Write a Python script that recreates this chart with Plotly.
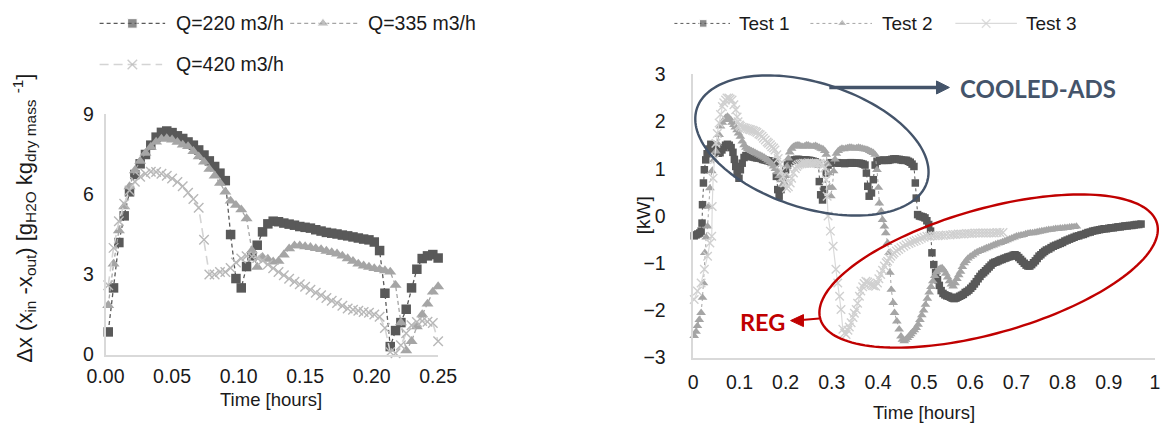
import numpy as np
import plotly.graph_objects as go

# ---- mapping from target picture pixels to the page ----
# The photographed page comes out slightly reduced, so targets are mapped back to page pixels.
S_X, B_X = 0.975, 8.0
S_Y, B_Y = 0.949, 1.0
OFF = 8            # default body margin of the page
FW, FH = 1185, 436  # figure size in page pixels

FONT = "Liberation Sans, Arial, sans-serif"
BOLD_FONT = "Lato, Open Sans, Liberation Sans, sans-serif"
TXT = "#1a1a1a"


def page_x(T):
    return (T - B_X) / S_X


def page_y(T):
    return (T - B_Y) / S_Y


def fx(T):
    return (page_x(T) - OFF) / FW


def fy(T):
    return 1 - (page_y(T) - OFF) / FH


# ---------------- data: left chart (moisture difference) ----------------
time_left = [0.002, 0.006, 0.010, 0.014, 0.018, 0.022, 0.026, 0.030, 0.034, 0.038,
             0.042, 0.046, 0.050, 0.054, 0.058, 0.062, 0.066, 0.070, 0.074, 0.078,
             0.082, 0.086, 0.090, 0.094, 0.098, 0.102, 0.106, 0.110, 0.114, 0.118,
             0.122, 0.126, 0.130, 0.134, 0.138, 0.142, 0.146, 0.150, 0.154, 0.158,
             0.162, 0.166, 0.170, 0.174, 0.178, 0.182, 0.186, 0.190, 0.194, 0.198,
             0.202, 0.206, 0.210, 0.214, 0.218, 0.222, 0.226, 0.230, 0.234, 0.238,
             0.242, 0.246, 0.250]
dx_q220 = [0.85, 2.5, 4.2, 5.2, 6.1, 6.75, 7.15, 7.5, 7.85, 8.15,
           8.33, 8.38, 8.32, 8.2, 8.1, 7.97, 7.85, 7.67, 7.48, 7.26,
           7.05, 6.8, 6.52, 4.5, 2.85, 2.5, 3.3, 3.7, 4.1, 4.6,
           4.9, 5.0, 4.98, 4.93, 4.89, 4.85, 4.8, 4.77, 4.74, 4.68,
           4.63, 4.58, 4.55, 4.52, 4.48, 4.45, 4.41, 4.37, 4.33, 4.3,
           4.22, 3.9, 2.3, 0.3, 0.9, 1.2, 1.7, 2.5, 3.2, 3.6,
           3.7, 3.75, 3.62]
dx_q335 = [1.85, 3.4, 4.65, 5.55, 6.3, 6.9, 7.25, 7.55, 7.78, 7.97,
           8.08, 8.1, 8.05, 7.96, 7.86, 7.8, 7.62, 7.42, 7.22, 6.95,
           6.7, 6.43, 6.1, 5.76, 5.6, 5.43, 5.1, 3.9, 3.28, 3.65,
           3.58, 3.48, 3.5, 3.74, 3.97, 4.08, 4.08, 4.05, 4.02, 3.98,
           3.94, 3.88, 3.83, 3.78, 3.7, 3.6, 3.5, 3.4, 3.33, 3.28,
           3.23, 3.19, 3.15, 3.1, 2.6, 1.2, 0.15, 0.5, 1.05, 1.5,
           1.9, 2.35, 2.55]
dx_q420 = [2.6, 4.0, 5.0, 5.65, 6.15, 6.48, 6.67, 6.78, 6.85, 6.84,
           6.78, 6.7, 6.6, 6.47, 6.31, 6.07, 5.83, 5.5, 4.3, 3.0,
           3.0, 3.1, 3.1, 3.25, 3.45, 3.6, 3.69, 3.68, 3.62, 3.53,
           3.38, 3.24, 3.1, 2.97, 2.84, 2.73, 2.64, 2.54, 2.43, 2.32,
           2.22, 2.12, 2.02, 1.93, 1.83, 1.73, 1.68, 1.64, 1.6, 1.57,
           1.5, 1.42, 1.0, 0.1, 0.05, 0.35, 0.8, 1.1, 1.22, 1.26,
           1.23, 1.18, 0.5]
left_names = ["Q=220 m3/h", "Q=335 m3/h", "Q=420 m3/h"]
left_xticks = [0, 0.05, 0.10, 0.15, 0.20, 0.25]
left_xticklabels = ["0.00", "0.05", "0.10", "0.15", "0.20", "0.25"]
left_yticks = [0, 3, 6, 9]

# ---------------- data: right chart (power, kW) as (hours, kW) ----------------
test1 = [
    (0.002, -0.42), (0.006, -0.4), (0.010, -0.38), (0.014, -0.36), (0.017, -0.32),
    (0.019, -0.15), (0.020, 0.24), (0.022, 0.7), (0.024, 0.98), (0.027, 1.19), (0.030, 1.32),
    (0.034, 1.42), (0.038, 1.52), (0.042, 1.5), (0.046, 1.45), (0.050, 1.38), (0.054, 1.33),
    (0.058, 1.34), (0.062, 1.4), (0.066, 1.45), (0.070, 1.5), (0.074, 1.52), (0.078, 1.5),
    (0.082, 1.45), (0.086, 1.35), (0.089, 1.2), (0.092, 1.05), (0.095, 0.9), (0.099, 0.8),
    (0.102, 0.98), (0.106, 1.12), (0.110, 1.24), (0.114, 1.28), (0.118, 1.27), (0.122, 1.26),
    (0.126, 1.26), (0.130, 1.25), (0.134, 1.24), (0.138, 1.23), (0.142, 1.23), (0.146, 1.22),
    (0.150, 1.2), (0.154, 1.19), (0.158, 1.18), (0.162, 1.17), (0.166, 1.16), (0.170, 1.16),
    (0.174, 1.14), (0.178, 1.12), (0.180, 0.84), (0.183, 0.56), (0.186, 0.42), (0.190, 0.56),
    (0.195, 0.8), (0.200, 0.98), (0.204, 1.08), (0.208, 1.13), (0.212, 1.16), (0.216, 1.18),
    (0.220, 1.19), (0.224, 1.2), (0.228, 1.2), (0.232, 1.19), (0.236, 1.19), (0.240, 1.19),
    (0.244, 1.19), (0.248, 1.18), (0.252, 1.18), (0.256, 1.17), (0.260, 1.16), (0.264, 1.15),
    (0.268, 1.13), (0.271, 1.1), (0.273, 0.73), (0.276, 0.45), (0.280, 0.34), (0.284, 0.56),
    (0.288, 0.91), (0.292, 1.08), (0.296, 1.12), (0.300, 1.13), (0.304, 1.13), (0.308, 1.13),
    (0.312, 1.13), (0.316, 1.12), (0.320, 1.12), (0.324, 1.12), (0.328, 1.11), (0.332, 1.12),
    (0.336, 1.12), (0.340, 1.13), (0.344, 1.13), (0.348, 1.12), (0.352, 1.12), (0.356, 1.12),
    (0.360, 1.12), (0.364, 1.11), (0.368, 1.1), (0.372, 1.08), (0.375, 0.91), (0.378, 0.63),
    (0.381, 0.42), (0.386, 0.49), (0.390, 0.77), (0.394, 1.08), (0.398, 1.16), (0.402, 1.18),
    (0.406, 1.18), (0.410, 1.18), (0.414, 1.18), (0.418, 1.18), (0.422, 1.18), (0.426, 1.19),
    (0.430, 1.2), (0.434, 1.21), (0.438, 1.21), (0.442, 1.2), (0.446, 1.2), (0.450, 1.19),
    (0.454, 1.18), (0.458, 1.18), (0.462, 1.18), (0.466, 1.16), (0.470, 1.14), (0.474, 1.1),
    (0.478, 1.05), (0.481, 0.7), (0.483, 0.38), (0.486, 0.03), (0.490, 0.0), (0.494, -0.01),
    (0.498, -0.02), (0.502, -0.04), (0.506, -0.1), (0.510, -0.18), (0.514, -0.32), (0.517, -0.78),
    (0.521, -1.03), (0.525, -1.2), (0.529, -1.35), (0.533, -1.47), (0.537, -1.58), (0.541, -1.64),
    (0.545, -1.67), (0.549, -1.69), (0.553, -1.7), (0.557, -1.72), (0.561, -1.74), (0.565, -1.75),
    (0.569, -1.74), (0.573, -1.72), (0.577, -1.7), (0.581, -1.68), (0.585, -1.66), (0.589, -1.62),
    (0.593, -1.6), (0.597, -1.57), (0.601, -1.53), (0.605, -1.49), (0.609, -1.44), (0.613, -1.39),
    (0.617, -1.33), (0.621, -1.28), (0.625, -1.23), (0.629, -1.2), (0.633, -1.16), (0.637, -1.12),
    (0.641, -1.08), (0.645, -1.04), (0.649, -1.0), (0.653, -0.98), (0.657, -0.97), (0.661, -0.95),
    (0.665, -0.93), (0.669, -0.92), (0.673, -0.9), (0.677, -0.89), (0.681, -0.87), (0.685, -0.86),
    (0.689, -0.85), (0.693, -0.83), (0.697, -0.82), (0.701, -0.84), (0.705, -0.88), (0.709, -0.92),
    (0.713, -0.96), (0.717, -1.0), (0.721, -1.04), (0.725, -1.06), (0.729, -1.06), (0.733, -1.03),
    (0.737, -0.99), (0.741, -0.95), (0.745, -0.9), (0.749, -0.85), (0.753, -0.82), (0.757, -0.78),
    (0.761, -0.75), (0.765, -0.72), (0.770, -0.7), (0.775, -0.67), (0.780, -0.64), (0.785, -0.62),
    (0.790, -0.6), (0.795, -0.58), (0.800, -0.56), (0.805, -0.53), (0.810, -0.51), (0.815, -0.49),
    (0.820, -0.47), (0.825, -0.45), (0.830, -0.43), (0.835, -0.42), (0.840, -0.4), (0.845, -0.39),
    (0.850, -0.37), (0.855, -0.35), (0.860, -0.34), (0.865, -0.32), (0.870, -0.31), (0.875, -0.3),
    (0.880, -0.29), (0.885, -0.28), (0.890, -0.27), (0.895, -0.27), (0.900, -0.26), (0.905, -0.25),
    (0.910, -0.25), (0.915, -0.24), (0.920, -0.23), (0.925, -0.23), (0.930, -0.22), (0.935, -0.21),
    (0.940, -0.21), (0.945, -0.2), (0.950, -0.2), (0.955, -0.19), (0.960, -0.18), (0.965, -0.18),
    (0.970, -0.17)]

test2 = [
    (0.002, -2.54), (0.006, -2.45), (0.009, -2.33), (0.013, -2.2), (0.017, -2.05), (0.020, -1.73),
    (0.022, -1.42), (0.025, -0.78), (0.028, -0.45), (0.031, -0.22), (0.033, 0.2), (0.036, 0.59),
    (0.040, 0.95), (0.045, 1.19), (0.049, 1.37), (0.052, 1.54), (0.056, 1.72), (0.059, 1.9),
    (0.063, 1.98), (0.067, 2.04), (0.070, 2.08), (0.074, 2.11), (0.077, 2.08), (0.081, 2.04),
    (0.084, 1.98), (0.088, 1.93), (0.091, 1.88), (0.095, 1.82), (0.098, 1.75), (0.102, 1.68),
    (0.106, 1.58), (0.110, 1.5), (0.114, 1.45), (0.118, 1.42), (0.122, 1.4), (0.126, 1.38),
    (0.130, 1.36), (0.134, 1.34), (0.138, 1.32), (0.142, 1.3), (0.146, 1.28), (0.150, 1.26),
    (0.154, 1.24), (0.158, 1.21), (0.162, 1.18), (0.166, 1.14), (0.170, 1.1), (0.174, 1.05),
    (0.178, 1.0), (0.182, 0.93), (0.186, 0.85), (0.190, 0.76), (0.194, 0.66), (0.197, 0.7),
    (0.200, 0.85), (0.203, 1.05), (0.206, 1.22), (0.209, 1.35), (0.213, 1.43), (0.217, 1.47),
    (0.221, 1.49), (0.225, 1.5), (0.229, 1.5), (0.233, 1.48), (0.237, 1.47), (0.241, 1.48),
    (0.245, 1.5), (0.249, 1.5), (0.253, 1.48), (0.257, 1.47), (0.261, 1.48), (0.265, 1.49),
    (0.269, 1.47), (0.273, 1.45), (0.277, 1.43), (0.281, 1.42), (0.285, 1.38), (0.288, 1.3),
    (0.291, 1.1), (0.293, 0.91), (0.295, 0.6), (0.298, 0.42), (0.301, 0.6), (0.304, 0.95),
    (0.307, 1.2), (0.310, 1.32), (0.314, 1.38), (0.318, 1.41), (0.322, 1.43), (0.326, 1.42),
    (0.330, 1.43), (0.334, 1.44), (0.338, 1.45), (0.342, 1.45), (0.346, 1.44), (0.350, 1.43),
    (0.354, 1.44), (0.358, 1.45), (0.362, 1.44), (0.366, 1.43), (0.370, 1.42), (0.374, 1.41),
    (0.378, 1.4), (0.382, 1.38), (0.386, 1.36), (0.390, 1.34), (0.394, 1.3), (0.398, 0.98),
    (0.401, 0.6), (0.403, 0.27), (0.407, 0.1), (0.410, -0.08), (0.414, -0.22), (0.417, -0.36),
    (0.421, -0.57), (0.424, -0.78), (0.426, -1.2), (0.429, -1.56), (0.433, -1.84), (0.436, -2.05),
    (0.441, -2.23), (0.446, -2.4), (0.450, -2.55), (0.453, -2.62), (0.457, -2.65), (0.460, -2.62),
    (0.464, -2.58), (0.468, -2.54), (0.471, -2.5), (0.475, -2.46), (0.479, -2.42), (0.483, -2.37),
    (0.487, -2.3), (0.491, -2.2), (0.495, -2.1), (0.499, -2.0), (0.503, -1.88), (0.507, -1.75),
    (0.511, -1.62), (0.515, -1.5), (0.519, -1.38), (0.523, -1.27), (0.527, -1.19), (0.531, -1.14),
    (0.535, -1.11), (0.539, -1.1), (0.543, -1.15), (0.547, -1.22), (0.551, -1.3), (0.555, -1.38),
    (0.559, -1.45), (0.563, -1.49), (0.567, -1.42), (0.571, -1.33), (0.575, -1.25), (0.579, -1.18),
    (0.583, -1.08), (0.587, -1.0), (0.591, -0.95), (0.595, -0.9), (0.600, -0.86), (0.605, -0.83),
    (0.610, -0.79), (0.615, -0.76), (0.620, -0.74), (0.625, -0.72), (0.630, -0.7), (0.635, -0.68),
    (0.640, -0.66), (0.645, -0.64), (0.650, -0.62), (0.655, -0.6), (0.660, -0.58), (0.665, -0.57),
    (0.670, -0.55), (0.675, -0.53), (0.680, -0.51), (0.685, -0.49), (0.690, -0.47), (0.695, -0.45),
    (0.700, -0.43), (0.705, -0.42), (0.710, -0.41), (0.715, -0.4), (0.720, -0.38), (0.725, -0.37),
    (0.730, -0.36), (0.735, -0.36), (0.740, -0.35), (0.745, -0.34), (0.750, -0.33), (0.755, -0.32),
    (0.760, -0.31), (0.765, -0.3), (0.770, -0.29), (0.775, -0.29), (0.780, -0.28), (0.785, -0.27),
    (0.790, -0.27), (0.795, -0.26), (0.800, -0.26), (0.805, -0.25), (0.810, -0.25), (0.815, -0.24),
    (0.820, -0.23), (0.825, -0.23), (0.830, -0.22)]

test3 = [
    (0.002, -1.77), (0.009, -1.59), (0.017, -1.42), (0.024, -1.13), (0.031, -0.85), (0.036, -0.57),
    (0.040, -0.43), (0.041, 0.2), (0.043, 0.8), (0.046, 1.2), (0.049, 1.54), (0.052, 1.75),
    (0.056, 1.97), (0.059, 2.15), (0.063, 2.32), (0.066, 2.4), (0.070, 2.46), (0.073, 2.5),
    (0.077, 2.5), (0.080, 2.48), (0.084, 2.46), (0.088, 2.36), (0.092, 2.25), (0.095, 2.1),
    (0.097, 2.0), (0.100, 1.93), (0.102, 1.9), (0.106, 1.88), (0.110, 1.87), (0.113, 1.86),
    (0.117, 1.85), (0.121, 1.84), (0.124, 1.83), (0.128, 1.82), (0.131, 1.8), (0.135, 1.79),
    (0.138, 1.77), (0.142, 1.74), (0.145, 1.72), (0.149, 1.69), (0.152, 1.65), (0.156, 1.61),
    (0.160, 1.57), (0.163, 1.54), (0.167, 1.51), (0.170, 1.47), (0.174, 1.44), (0.177, 1.4),
    (0.181, 1.3), (0.184, 1.22), (0.188, 1.1), (0.191, 0.95), (0.195, 0.84), (0.198, 0.7),
    (0.202, 0.59), (0.206, 0.62), (0.210, 0.7), (0.213, 0.8), (0.217, 0.91), (0.221, 1.0),
    (0.224, 1.05), (0.227, 1.08), (0.231, 1.1), (0.235, 1.11), (0.239, 1.12), (0.242, 1.12),
    (0.246, 1.12), (0.250, 1.13), (0.254, 1.12), (0.258, 1.12), (0.262, 1.12), (0.266, 1.12),
    (0.270, 1.11), (0.274, 1.12), (0.277, 1.1), (0.281, 1.08), (0.285, 1.02), (0.288, 0.77),
    (0.290, 0.42), (0.292, 0.0), (0.297, -0.32), (0.303, -0.64), (0.309, -1.13), (0.313, -1.42),
    (0.317, -1.7), (0.320, -1.98), (0.324, -2.4), (0.328, -2.48), (0.331, -2.51), (0.335, -2.42),
    (0.338, -2.35), (0.342, -2.26), (0.346, -2.15), (0.349, -2.06), (0.353, -1.98), (0.356, -1.85),
    (0.360, -1.7), (0.363, -1.59), (0.367, -1.5), (0.370, -1.43), (0.374, -1.38), (0.378, -1.4),
    (0.381, -1.43), (0.385, -1.45), (0.388, -1.47), (0.391, -1.48), (0.395, -1.49), (0.399, -1.42),
    (0.402, -1.33), (0.406, -1.24), (0.410, -1.15), (0.414, -1.06), (0.418, -0.99), (0.421, -0.96),
    (0.425, -0.9), (0.428, -0.85), (0.432, -0.81), (0.435, -0.78), (0.440, -0.74), (0.445, -0.71),
    (0.450, -0.67), (0.456, -0.64), (0.461, -0.61), (0.467, -0.58), (0.472, -0.56), (0.478, -0.54),
    (0.483, -0.52), (0.489, -0.5), (0.494, -0.47), (0.500, -0.45), (0.506, -0.43), (0.512, -0.43),
    (0.518, -0.42), (0.524, -0.42), (0.530, -0.42), (0.536, -0.41), (0.542, -0.41), (0.548, -0.4),
    (0.556, -0.4), (0.562, -0.39), (0.568, -0.39), (0.574, -0.38), (0.580, -0.38), (0.586, -0.38),
    (0.592, -0.37), (0.598, -0.37), (0.604, -0.37), (0.610, -0.36), (0.616, -0.36), (0.622, -0.36),
    (0.628, -0.36), (0.634, -0.36), (0.640, -0.36), (0.646, -0.36), (0.652, -0.36), (0.658, -0.35),
    (0.664, -0.35), (0.671, -0.35)]
right_names = ["Test 1", "Test 2", "Test 3"]
right_xticks = [0, 0.1, 0.2, 0.3, 0.4, 0.5, 0.6, 0.7, 0.8, 0.9, 1.0]
right_xticklabels = ["0", "0.1", "0.2", "0.3", "0.4", "0.5", "0.6", "0.7", "0.8", "0.9", "1"]
right_yticks = [-3, -2, -1, 0, 1, 2, 3]

# ---------------- styles ----------------
C_DARK, C_MID, C_LIGHT = "#595959", "#A5A5A5", "#B8B8B8"
left_styles = [
    dict(line=dict(color=C_DARK, width=1.3, dash="4px,3px"),
         marker=dict(symbol="square", size=9.5, color=C_DARK)),
    dict(line=dict(color=C_MID, width=1.3, dash="4px,3px"),
         marker=dict(symbol="triangle-up", size=10.5, color=C_MID)),
    dict(line=dict(color="#D4D4D4", width=1.6, dash="9px,5px"),
         marker=dict(symbol="x-thin", size=9.5, color=C_LIGHT, line=dict(width=1.4, color=C_LIGHT))),
]
right_styles = [
    dict(line=dict(color=C_DARK, width=1, dash="dot"),
         marker=dict(symbol="square", size=7.5, color=C_DARK)),
    dict(line=dict(color=C_MID, width=1, dash="dot"),
         marker=dict(symbol="triangle-up", size=8.5, color=C_MID)),
    dict(line=dict(color="#DADADA", width=1.2),
         marker=dict(symbol="x-thin", size=8.5, color="#D0D0D0", line=dict(width=1.4, color="#D0D0D0"))),
]

fig = go.Figure()

for name, vals, st in zip(left_names, [dx_q220, dx_q335, dx_q420], left_styles):
    fig.add_trace(go.Scatter(x=time_left, y=vals, name=name, mode="lines+markers",
                             xaxis="x", yaxis="y", cliponaxis=False, showlegend=False, **st))

for name, pairs, st in zip(right_names, [test1, test2, test3], right_styles):
    fig.add_trace(go.Scatter(x=[p[0] for p in pairs], y=[p[1] for p in pairs], name=name,
                             mode="lines+markers", xaxis="x2", yaxis="y2", cliponaxis=False,
                             showlegend=False, **st))

# ---------------- legends drawn on a full-figure overlay in picture pixels ----------------
legend_items = [
    # (x0, xmarker, x1, y, text_x, font size, style, name)
    (97, 130, 163, 21, 172, 19.5, left_styles[0], left_names[0]),
    (289, 322, 357, 21, 365, 19.5, left_styles[1], left_names[1]),
    (97, 130, 160, 62, 172, 19.5, left_styles[2], left_names[2]),
    (676, 705, 732, 21, 739, 19, right_styles[0], right_names[0]),
    (813, 845, 875, 21, 883, 19, right_styles[1], right_names[1]),
    (959, 990, 1021, 21, 1028, 19, right_styles[2], right_names[2]),
]
annotations = []
for x0, xm, x1, yy, tx, fs, st, name in legend_items:
    mk = dict(st["marker"])
    mk["size"] = [0, mk["size"], 0]
    fig.add_trace(go.Scatter(x=[x0, xm, x1], y=[yy, yy, yy], mode="lines+markers",
                             line=st["line"], marker=mk, xaxis="x3", yaxis="y3",
                             showlegend=False, hoverinfo="skip"))
    annotations.append(dict(x=fx(tx), y=fy(yy), xref="paper", yref="paper", text=name,
                            showarrow=False, xanchor="left", yanchor="middle",
                            font=dict(family=FONT, size=fs, color=TXT)))

# axis titles
annotations += [
    dict(x=fx(21), y=fy(216), xref="paper", yref="paper", textangle=-90,
         text="Δx (x<sub>in</sub> -x<sub>out</sub>) [g<sub>H2O</sub> kg<sub>dry mass</sub> <sup>-1</sup>]",
         showarrow=False, xanchor="center", yanchor="middle",
         font=dict(family=FONT, size=22, color=TXT)),
    dict(x=fx(270), y=fy(397), xref="paper", yref="paper", text="Time [hours]",
         showarrow=False, xanchor="center", yanchor="middle",
         font=dict(family=FONT, size=18.5, color=TXT)),
    dict(x=fx(645), y=fy(213), xref="paper", yref="paper", text="[kW]", textangle=-90,
         showarrow=False, xanchor="center", yanchor="middle",
         font=dict(family=FONT, size=19, color=TXT)),
    dict(x=fx(927), y=fy(410), xref="paper", yref="paper", text="Time [hours]",
         showarrow=False, xanchor="center", yanchor="middle",
         font=dict(family=FONT, size=18.5, color=TXT)),
]

# call-out labels
BLUE, RED = "#44546A", "#C00000"
annotations += [
    dict(x=fx(962), y=fy(86), xref="paper", yref="paper", text="<b>COOLED-ADS</b>",
         showarrow=False, xanchor="left", yanchor="middle",
         font=dict(family=BOLD_FONT, size=24, color=BLUE)),
    dict(x=fx(789), y=fy(319), xref="paper", yref="paper", text="<b>REG</b>",
         showarrow=False, xanchor="right", yanchor="middle",
         font=dict(family=BOLD_FONT, size=23.5, color=RED)),
]


def to_paper_path(points, close=True):
    pts = [f"{fx(x):.5f},{fy(y):.5f}" for x, y in points]
    return "M" + " L".join(pts) + (" Z" if close else "")


def ellipse_path(cx, cy, a, b, ang_deg, n=160):
    th = np.linspace(0, 2 * np.pi, n)
    c, s = np.cos(np.radians(ang_deg)), np.sin(np.radians(ang_deg))
    xs = cx + a * np.cos(th) * c - b * np.sin(th) * s
    ys = cy + a * np.cos(th) * s + b * np.sin(th) * c
    return to_paper_path(list(zip(xs, ys)))


shapes = [
    dict(type="path", xref="paper", yref="paper", path=ellipse_path(814.5, 143, 121.6, 62.6, 17.5),
         line=dict(color=BLUE, width=2.4), layer="above"),
    dict(type="path", xref="paper", yref="paper", path=ellipse_path(992.5, 268.5, 176.2, 62.2, -15.7),
         line=dict(color=RED, width=2.4), layer="above"),
    # blue arrow
    dict(type="line", xref="paper", yref="paper", x0=fx(832), y0=fy(85), x1=fx(942), y1=fy(85),
         line=dict(color=BLUE, width=3.4), layer="above"),
    dict(type="path", xref="paper", yref="paper",
         path=to_paper_path([(953, 85), (940, 78.5), (940, 91.5)]),
         fillcolor=BLUE, line=dict(color=BLUE, width=1), layer="above"),
    # red arrow
    dict(type="line", xref="paper", yref="paper", x0=fx(822), y0=fy(316), x1=fx(804), y1=fy(317.5),
         line=dict(color=RED, width=2), layer="above"),
    dict(type="path", xref="paper", yref="paper",
         path=to_paper_path([(793, 318), (806, 312), (806, 324)]),
         fillcolor=RED, line=dict(color=RED, width=1), layer="above"),
]

axis_common = dict(showline=True, linecolor="#D9D9D9", linewidth=1.5, showgrid=False,
                   zeroline=False, ticks="", tickfont=dict(family=FONT, size=19.5, color=TXT))

fig.update_layout(
    width=FW, height=FH, margin=dict(l=0, r=0, t=0, b=0), autosize=False,
    paper_bgcolor="white", plot_bgcolor="rgba(0,0,0,0)",
    showlegend=False, annotations=annotations, shapes=shapes,
    xaxis=dict(domain=[fx(103), fx(438)], range=[0, 0.25], tickvals=left_xticks,
               ticktext=left_xticklabels, anchor="y", ticklabelstandoff=3, **axis_common),
    yaxis=dict(domain=[fy(352), fy(112)], range=[0, 9], tickvals=left_yticks,
               anchor="x", ticklabelstandoff=6, **axis_common),
    xaxis2=dict(domain=[fx(695), fx(1160)], range=[0, 1], tickvals=right_xticks,
                ticktext=right_xticklabels, anchor="y2", ticklabelstandoff=6, **axis_common),
    yaxis2=dict(domain=[fy(355), fy(72)], range=[-3, 3], tickvals=right_yticks,
                anchor="x2", ticklabelstandoff=22, **axis_common),
    xaxis3=dict(domain=[0, 1], range=[S_X * OFF + B_X, S_X * (OFF + FW) + B_X],
                visible=False, anchor="y3"),
    yaxis3=dict(domain=[0, 1], range=[S_Y * (OFF + FH) + B_Y, S_Y * OFF + B_Y],
                visible=False, anchor="x3"),
)

fig.write_html("out.html")
